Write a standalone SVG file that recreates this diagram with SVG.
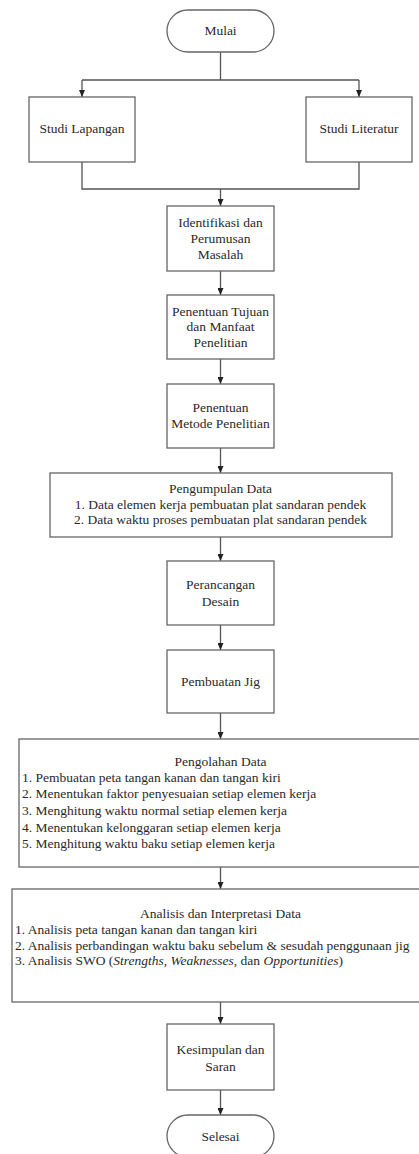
<svg xmlns="http://www.w3.org/2000/svg" width="419" height="1154" viewBox="0 0 419 1154">
<style>
.box{fill:#fff;stroke:#666;stroke-width:1.3}
.ln{fill:none;stroke:#555;stroke-width:1.3}
text{font-family:"Liberation Serif","Times New Roman",serif;font-size:13.5px;fill:#2a2a2a}
.c{text-anchor:middle}
.i{font-style:italic}
</style>
<defs>
<marker id="ah" markerUnits="userSpaceOnUse" markerWidth="8" markerHeight="6" refX="7" refY="3" orient="auto">
<path d="M0,0 L7,3 L0,6 Z" fill="#222"/>
</marker>
</defs>
<rect width="419" height="1154" fill="#fff"/>
<g id="connectors">
<path class="ln" d="M220.5 52 V80 M82 80 H359"/>
<path class="ln" d="M82 80 V97" marker-end="url(#ah)"/>
<path class="ln" d="M359 80 V97" marker-end="url(#ah)"/>
<path class="ln" d="M82 162 V189 H359 V162"/>
<path class="ln" d="M220.5 189 V206" marker-end="url(#ah)"/>
<path class="ln" d="M220.5 271 V295" marker-end="url(#ah)"/>
<path class="ln" d="M220.5 359 V384" marker-end="url(#ah)"/>
<path class="ln" d="M220.5 448 V473" marker-end="url(#ah)"/>
<path class="ln" d="M220.5 537 V561" marker-end="url(#ah)"/>
<path class="ln" d="M220.5 625 V650" marker-end="url(#ah)"/>
<path class="ln" d="M220.5 713 V739" marker-end="url(#ah)"/>
<path class="ln" d="M220.5 867 V889" marker-end="url(#ah)"/>
<path class="ln" d="M220.5 1002 V1024" marker-end="url(#ah)"/>
<path class="ln" d="M220.5 1090 V1115" marker-end="url(#ah)"/>
</g>
<g id="mulai">
<rect class="box" x="167" y="10" width="107" height="42" rx="21"/>
<text class="c" x="220.5" y="35">Mulai</text>
</g>
<g id="studi-lapangan">
<rect class="box" x="29" y="97" width="106" height="65"/>
<text class="c" x="82" y="133">Studi Lapangan</text>
</g>
<g id="studi-literatur">
<rect class="box" x="306" y="97" width="106" height="65"/>
<text class="c" x="359" y="133">Studi Literatur</text>
</g>
<g id="identifikasi">
<rect class="box" x="167" y="206" width="107" height="65"/>
<text class="c" x="220.5" y="227">Identifikasi dan</text>
<text class="c" x="220.5" y="243">Perumusan</text>
<text class="c" x="220.5" y="259">Masalah</text>
</g>
<g id="tujuan">
<rect class="box" x="167" y="295" width="107" height="64"/>
<text class="c" x="220.5" y="316">Penentuan Tujuan</text>
<text class="c" x="220.5" y="331">dan Manfaat</text>
<text class="c" x="220.5" y="347">Penelitian</text>
</g>
<g id="metode">
<rect class="box" x="167" y="384" width="107" height="64"/>
<text class="c" x="220.5" y="412">Penentuan</text>
<text class="c" x="220.5" y="428">Metode Penelitian</text>
</g>
<g id="pengumpulan">
<rect class="box" x="50" y="473" width="342" height="64"/>
<text class="c" x="220.5" y="493">Pengumpulan Data</text>
<text class="c" x="220.5" y="509">1. Data elemen kerja pembuatan plat sandaran pendek</text>
<text class="c" x="220.5" y="524">2. Data waktu proses pembuatan plat sandaran pendek</text>
</g>
<g id="perancangan">
<rect class="box" x="167" y="561" width="107" height="64"/>
<text class="c" x="220.5" y="589">Perancangan</text>
<text class="c" x="220.5" y="606">Desain</text>
</g>
<g id="jig">
<rect class="box" x="167" y="650" width="107" height="63"/>
<text class="c" x="220.5" y="686">Pembuatan Jig</text>
</g>
<g id="pengolahan">
<rect class="box" x="19" y="739" width="410" height="128"/>
<text class="c" x="220.5" y="766">Pengolahan Data</text>
<text x="22" y="782">1. Pembuatan peta tangan kanan dan tangan kiri</text>
<text x="22" y="798">2. Menentukan faktor penyesuaian setiap elemen kerja</text>
<text x="22" y="815">3. Menghitung waktu normal setiap elemen kerja</text>
<text x="22" y="832">4. Menentukan kelonggaran setiap elemen kerja</text>
<text x="22" y="848">5. Menghitung waktu baku setiap elemen kerja</text>
</g>
<g id="analisis">
<rect class="box" x="12" y="889" width="420" height="113"/>
<text class="c" x="220.5" y="918">Analisis dan Interpretasi Data</text>
<text x="15" y="934">1. Analisis peta tangan kanan dan tangan kiri</text>
<text x="15" y="950">2. Analisis perbandingan waktu baku sebelum &amp; sesudah penggunaan jig</text>
<text x="15" y="965">3. Analisis SWO (<tspan class="i">Strengths</tspan>, <tspan class="i">Weaknesses</tspan>, dan <tspan class="i">Opportunities</tspan>)</text>
</g>
<g id="kesimpulan">
<rect class="box" x="167" y="1024" width="107" height="66"/>
<text class="c" x="220.5" y="1054">Kesimpulan dan</text>
<text class="c" x="220.5" y="1071">Saran</text>
</g>
<g id="selesai">
<rect class="box" x="167" y="1115" width="107" height="42" rx="21"/>
<text class="c" x="220.5" y="1141">Selesai</text>
</g>
</svg>
